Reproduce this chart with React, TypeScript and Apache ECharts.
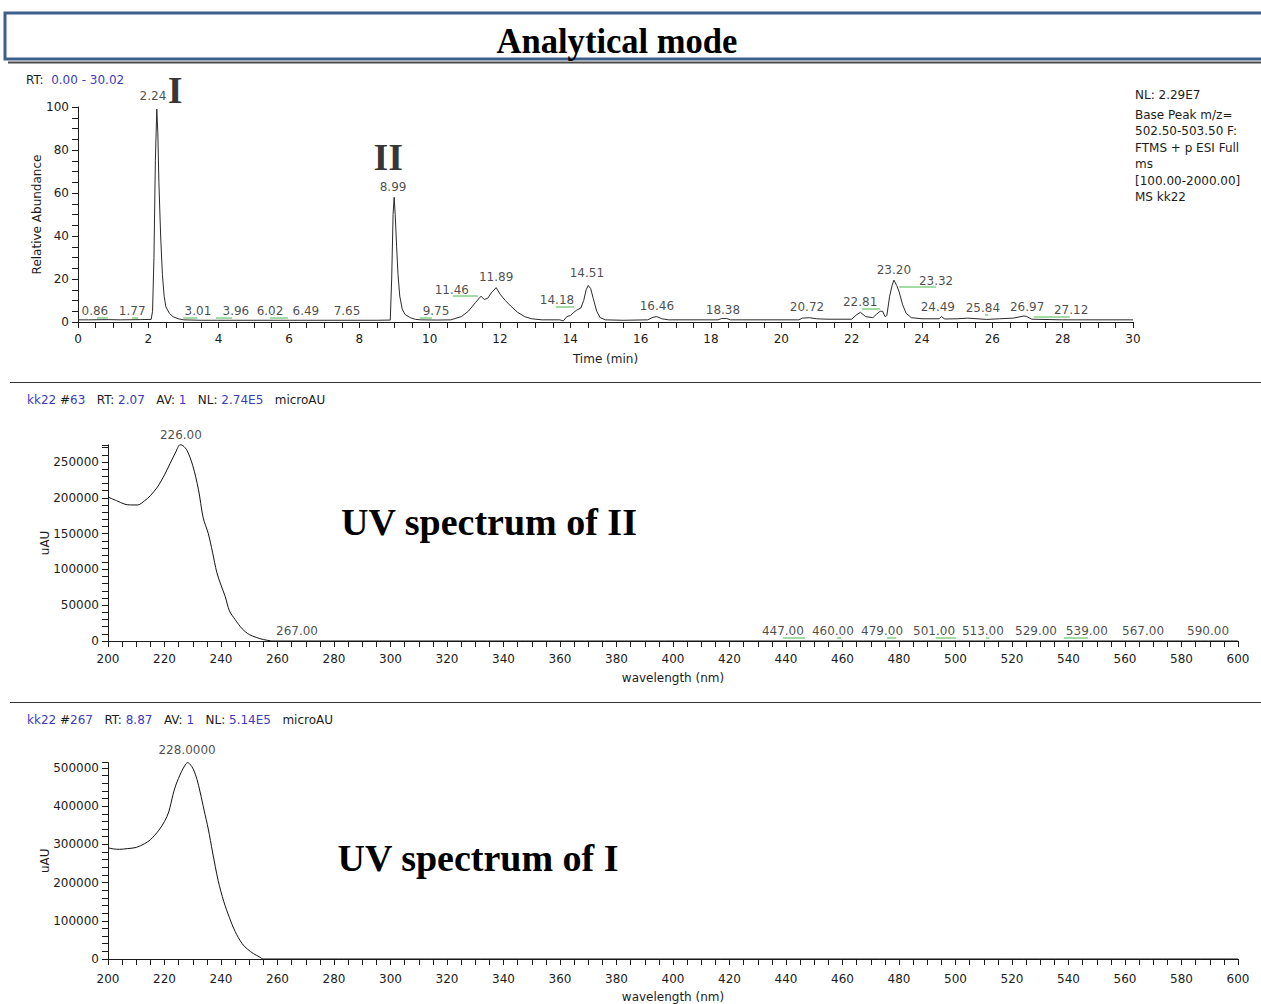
import React, { useEffect, useRef } from 'react';
import * as echarts from 'echarts';

// ---------- Chromatogram (Base Peak, relative abundance vs time) ----------
const chromTime = [
  0.0, 0.3, 0.86, 1.2, 1.77, 2.08, 2.12, 2.16, 2.2, 2.24, 2.27, 2.3, 2.35, 2.4, 2.45, 2.5, 2.6, 2.7, 2.85, 3.01,
  3.5, 3.96, 4.5, 5.0, 6.02, 6.49, 7.0, 7.65, 8.5, 8.88, 8.92, 8.96, 8.99, 9.02, 9.06, 9.1, 9.15, 9.22, 9.3, 9.45,
  9.6, 9.75, 10.2, 10.6, 10.9, 11.1, 11.3, 11.46, 11.55, 11.65, 11.75, 11.89, 12.0, 12.15, 12.3, 12.5, 12.7, 12.9, 13.2, 13.7,
  13.8, 13.9, 14.0, 14.1, 14.18, 14.3, 14.38, 14.45, 14.51, 14.58, 14.65, 14.75, 14.85, 15.0, 15.5, 16.2, 16.35, 16.46, 16.6, 16.8,
  18.2, 18.3, 18.45, 18.55, 20.5, 20.6, 20.8, 21.0, 21.3, 22.0, 22.15, 22.25, 22.4, 22.6, 22.7, 22.81, 22.88, 22.95, 23.0, 23.08,
  23.15, 23.2, 23.28, 23.35, 23.45, 23.55, 23.7, 24.0, 24.49, 24.55, 24.65, 25.0, 25.3, 25.84, 26.2, 26.6, 26.9, 26.97, 27.12, 28.0,
  30.0,
];
const chromAbund = [
  1.0, 1.0, 1.1, 1.0, 1.1, 1.2, 5, 30, 75, 99, 88, 65, 40, 22, 12, 7, 4, 2.5, 1.5, 1.0,
  0.8, 0.8, 0.8, 0.8, 0.8, 0.8, 0.8, 0.8, 0.8, 0.9, 20, 50, 58, 50, 35, 22, 12, 6, 3.5, 2,
  1.2, 1.0, 0.9, 1.0, 2.5, 5, 9, 12, 10.5, 11, 13.5, 16, 13, 10, 7.5, 4.5, 2.5, 1.5, 1.0, 1.0,
  0.5, 2.5, 3, 4.5, 5.5, 6.5, 10, 15, 17, 15.5, 11, 5, 2, 1, 0.8, 1, 2.2, 2.5, 1.5, 1,
  1, 1.6, 1.6, 1, 1, 1.8, 2, 1.5, 1.3, 1.3, 3.5, 4.5, 2.5, 2, 3.5, 5, 5, 2.5, 3, 12,
  17, 19.5, 17, 14, 8, 4, 2, 1.5, 1.5, 2.5, 1.4, 1.5, 1.8, 1.2, 1.5, 1.8, 2.8, 2.6, 1.3, 1.0,
  1.0,
];

// peak annotations (label text, anchor time, anchor abundance)
const chromLabelText = ['2.24', '8.99', '0.86', '1.77', '3.01', '3.96', '6.02', '6.49', '7.65', '9.75', '11.46', '11.89',
  '14.18', '14.51', '16.46', '18.38', '20.72', '22.81', '23.20', '23.32', '24.49', '25.84', '26.97', '27.12'];
const chromLabelTime = [2.13, 8.96, 0.48, 1.54, 3.41, 4.49, 5.46, 6.48, 7.65, 10.18, 10.63, 11.89,
  13.62, 14.47, 16.46, 18.34, 20.73, 22.24, 23.2, 24.4, 24.45, 25.73, 26.99, 28.24];
const chromLabelAbund = [105.1, 62.8, 5.1, 5.1, 5.1, 5.1, 5.1, 5.1, 5.1, 5.1, 14.9, 20.9,
  10.2, 22.8, 7.4, 5.6, 7.0, 9.3, 24.2, 19.1, 7.0, 6.5, 7.0, 5.6];

// integration marks (start time, end time, abundance)
const chromMarkStart = [0.54, 1.54, 2.99, 3.92, 5.46, 9.72, 10.66, 13.59, 22.29, 23.35, 25.79, 27.18];
const chromMarkEnd = [0.85, 1.71, 3.39, 4.38, 5.97, 10.06, 11.37, 14.1, 22.81, 24.4, 25.88, 28.2];
const chromMarkAbund = [2.2, 2.2, 2.2, 2.2, 2.2, 2.2, 12, 6.9, 6.0, 16.6, 3.2, 2.4];

const romanText = ['I', 'II'];
const romanTime = [2.76, 8.82];
const romanAbund = [107.9, 76.7];

// ---------- UV spectrum of II (scan #63) ----------
const uv2Wave = [200, 203, 206, 208, 210.5, 213, 215, 217.5, 220, 222, 224, 225.5, 226.5, 228, 230, 232, 233.7, 235.5, 237, 238.5,
  240, 241.5, 243, 245, 247.5, 250, 252.5, 255, 257.5, 258, 600];
const uv2Abs = [201000, 196000, 191000, 190000, 190000, 196000, 203000, 215000, 232000, 248000, 264000, 274000, 273000, 266000, 245000, 212000, 172000, 150000, 124000, 96000,
  78000, 62000, 42000, 30000, 17000, 9000, 5000, 2000, 300, 0, 0];
const uv2LabelText = ['226.00', '267.00', '447.00', '460.00', '479.00', '501.00', '513.00', '529.00', '539.00', '567.00', '590.00'];
const uv2LabelWave = [225.8, 266.9, 438.9, 456.6, 474.0, 492.4, 509.7, 528.5, 546.5, 566.4, 589.4];
const uv2LabelAbs = [288000, 13900, 13900, 13900, 13900, 13900, 13900, 13900, 13900, 13900, 13900];
const uv2MarkStart = [438.9, 458.0, 475.7, 493.0, 510.8, 538.4];
const uv2MarkEnd = [446.7, 459.5, 479.0, 500.2, 512.0, 546.9];
const uv2MarkAbs = [4200, 4200, 4200, 4200, 4200, 4200];

// ---------- UV spectrum of I (scan #267) ----------
const uv1Wave = [200, 202, 204, 207, 210, 213, 215, 218, 220, 221.5, 223, 224, 226, 227.5, 228.2, 229, 230.2, 231.5, 232.6, 234,
  235.5, 237, 239, 241, 243, 245, 247.5, 249.5, 251.5, 253.5, 255, 600];
const uv1Abs = [291000, 288000, 287000, 289000, 292000, 302000, 312000, 337000, 360000, 385000, 430000, 455000, 490000, 510000, 514000, 510000, 497000, 470000, 437000, 390000,
  340000, 280000, 205000, 150000, 108000, 72000, 40000, 25000, 14000, 6000, 0, 0];
const uv1LabelText = ['228.0000'];
const uv1LabelWave = [228.0];
const uv1LabelAbs = [548000];

const FONT = 'DejaVu Sans';
const SERIF = 'Liberation Serif';
const INK = '#1c1c1c';
const BLUE = '#3c3cbe';
const GREEN = '#86cf86';

const zip = (a: number[], b: number[]) => a.map((v, i) => [v, b[i]]);

function xAxisCfg(gridIndex: number, min: number, max: number, interval: number, every: number, name: string, margin: number, nameGap: number) {
  return {
    type: 'value', gridIndex, min, max, interval,
    name, nameLocation: 'middle', nameGap, nameMoveOverlap: false,
    nameTextStyle: { color: INK, fontFamily: FONT, fontSize: 12 },
    axisLine: { show: true, onZero: false, lineStyle: { color: INK, width: 1 } },
    axisTick: { show: true, length: 6, lineStyle: { color: INK } },
    splitLine: { show: false },
    axisLabel: {
      color: INK, fontFamily: FONT, fontSize: 12, margin,
      formatter: (v: number) => (Math.abs(v / every - Math.round(v / every)) < 1e-6 ? String(Math.round(v)) : ''),
    },
  };
}

function yAxisCfg(gridIndex: number, max: number, interval: number, every: number, name: string, nameGap: number) {
  return {
    type: 'value', gridIndex, min: 0, max, interval,
    name, nameLocation: 'middle', nameGap, nameMoveOverlap: false,
    nameTextStyle: { color: INK, fontFamily: FONT, fontSize: 12 },
    axisLine: { show: true, lineStyle: { color: INK, width: 1 } },
    axisTick: { show: true, length: 6, lineStyle: { color: INK } },
    splitLine: { show: false },
    axisLabel: {
      color: INK, fontFamily: FONT, fontSize: 12, margin: 9,
      formatter: (v: number) => (v % every === 0 ? String(v) : ''),
    },
  };
}

function labelSeries(axis: number, xs: number[], ys: number[], texts: string[], extra: any = {}) {
  return {
    type: 'scatter', xAxisIndex: axis, yAxisIndex: axis, clip: false, silent: true,
    symbolSize: 1, itemStyle: { color: 'rgba(0,0,0,0)' },
    data: xs.map((x, i) => ({ value: [x, ys[i]], name: texts[i] })),
    label: {
      show: true, position: 'inside', formatter: (p: any) => p.name,
      color: INK, fontFamily: FONT, fontSize: 12, ...extra,
    },
    z: 5,
  };
}

function markSeries(axis: number, s: number[], e: number[], y: number[]) {
  return {
    type: 'lines', coordinateSystem: 'cartesian2d', xAxisIndex: axis, yAxisIndex: axis, silent: true,
    data: s.map((v, i) => ({ coords: [[v, y[i]], [e[i], y[i]]] })),
    lineStyle: { color: GREEN, width: 1.5, opacity: 1 },
    symbol: 'none', z: 4,
  };
}

function headerText(y: number, scan: string, rt: string, nl: string) {
  return {
    type: 'text', x: 27, y,
    style: {
      text: `{b|kk22} #{b|${scan}}   RT: {b|${rt}}   AV: {b|1}   NL: {b|${nl}}   microAU`,
      fill: INK, fontFamily: FONT, fontSize: 12, verticalAlign: 'middle',
      rich: { b: { fill: BLUE, fontFamily: FONT, fontSize: 12 } },
    },
  };
}

const nlLines = ['NL: 2.29E7', 'Base Peak m/z=', '502.50-503.50 F:', 'FTMS + p ESI Full', 'ms', '[100.00-2000.00]', 'MS kk22'];
const nlLineY = [95, 115, 131, 148, 164, 181, 197];

export default function App() {
  const ref = useRef<HTMLDivElement>(null);
  useEffect(() => {
    if (!ref.current) return;
    const chart = echarts.init(ref.current, null, { renderer: 'svg' });
    const option: any = {
      animation: false,
      backgroundColor: '#ffffff',
      grid: [
        { left: 78, top: 107, width: 1055, height: 215 },
        { left: 108, top: 641 - 196.2, width: 1130, height: 196.2 },
        { left: 108, top: 960 - 197.4, width: 1130, height: 197.4 },
      ],
      xAxis: [
        xAxisCfg(0, 0, 30, 0.5, 2, 'Time (min)', 11, 31),
        xAxisCfg(1, 200, 600, 5, 20, 'wavelength (nm)', 12, 31),
        xAxisCfg(2, 200, 600, 5, 20, 'wavelength (nm)', 14, 32),
      ],
      yAxis: [
        yAxisCfg(0, 100, 5, 20, 'Relative Abundance', 35),
        yAxisCfg(1, 274000, 10000, 50000, 'uAU', 57),
        yAxisCfg(2, 514000, 20000, 100000, 'uAU', 57),
      ],
      series: [
        {
          type: 'line', xAxisIndex: 0, yAxisIndex: 0, data: zip(chromTime, chromAbund),
          showSymbol: false, symbol: 'none', clip: false, lineStyle: { color: '#2a2a2a', width: 1 }, z: 3,
        },
        {
          type: 'line', xAxisIndex: 1, yAxisIndex: 1, data: zip(uv2Wave, uv2Abs), smooth: 0.3,
          showSymbol: false, symbol: 'none', clip: false, lineStyle: { color: '#111', width: 1 }, z: 3,
        },
        {
          type: 'line', xAxisIndex: 2, yAxisIndex: 2, data: zip(uv1Wave, uv1Abs), smooth: 0.3,
          showSymbol: false, symbol: 'none', clip: false, lineStyle: { color: '#111', width: 1 }, z: 3,
        },
        labelSeries(0, chromLabelTime, chromLabelAbund, chromLabelText),
        labelSeries(0, romanTime, romanAbund, romanText, { fontFamily: SERIF, fontWeight: 'bold', fontSize: 38, color: '#000' }),
        markSeries(0, chromMarkStart, chromMarkEnd, chromMarkAbund),
        labelSeries(1, uv2LabelWave, uv2LabelAbs, uv2LabelText),
        markSeries(1, uv2MarkStart, uv2MarkEnd, uv2MarkAbs),
        labelSeries(2, uv1LabelWave, uv1LabelAbs, uv1LabelText),
      ],
      graphic: [
        { type: 'rect', shape: { x: 5, y: 13, width: 1262, height: 46 }, style: { fill: 'none', stroke: '#3e5f8c', lineWidth: 3 } },
        { type: 'line', shape: { x1: 8, y1: 62.5, x2: 1261, y2: 62.5 }, style: { stroke: '#4a4a4a', lineWidth: 2 } },
        {
          type: 'text', x: 617, y: 41, scaleX: 0.96,
          style: { text: 'Analytical mode', fontFamily: SERIF, fontWeight: 'bold', fontSize: 36, fill: '#000', align: 'center', verticalAlign: 'middle' },
        },
        {
          type: 'text', x: 26, y: 80,
          style: { text: 'RT:  {b|0.00 - 30.02}', fill: INK, fontFamily: FONT, fontSize: 12, verticalAlign: 'middle', rich: { b: { fill: BLUE, fontFamily: FONT, fontSize: 12 } } },
        },
        ...nlLines.map((t, i) => ({
          type: 'text', x: 1135, y: nlLineY[i],
          style: { text: t, fill: INK, fontFamily: FONT, fontSize: 12, verticalAlign: 'middle' },
        })),
        { type: 'line', shape: { x1: 10, y1: 382.5, x2: 1261, y2: 382.5 }, style: { stroke: '#333', lineWidth: 1 } },
        { type: 'line', shape: { x1: 10, y1: 702.5, x2: 1261, y2: 702.5 }, style: { stroke: '#333', lineWidth: 1 } },
        headerText(400, '63', '2.07', '2.74E5'),
        headerText(720, '267', '8.87', '5.14E5'),
        {
          type: 'text', x: 489, y: 522,
          style: { text: 'UV spectrum of II', fontFamily: SERIF, fontWeight: 'bold', fontSize: 38, fill: '#000', align: 'center', verticalAlign: 'middle' },
        },
        {
          type: 'text', x: 478, y: 858,
          style: { text: 'UV spectrum of I', fontFamily: SERIF, fontWeight: 'bold', fontSize: 38, fill: '#000', align: 'center', verticalAlign: 'middle' },
        },
      ],
    };
    chart.setOption(option);
    return () => chart.dispose();
  }, []);
  return <div ref={ref} style={{ position: 'absolute', left: 0, top: 0, width: 1261, height: 1004 }} />;
}
